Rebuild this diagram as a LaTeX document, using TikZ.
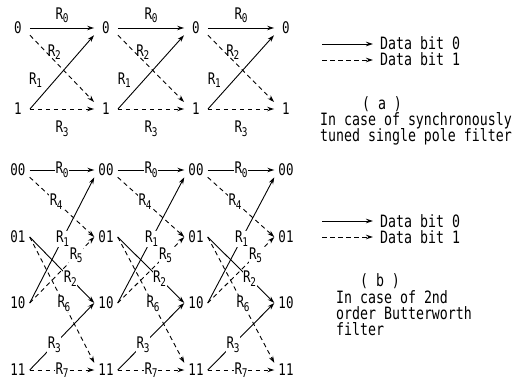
\documentclass[tikz,border=0pt]{standalone}
\usepackage{fontspec}
\newfontfamily\plotfont[FakeStretch=0.78]{DejaVu Sans Mono}
\usetikzlibrary{arrows.meta}
\newcommand{\Rl}[1]{R\kern-0.3pt\raisebox{-3.5pt}{\fontsize{12}{12}\selectfont #1}}
\begin{document}
\begin{tikzpicture}[x=1pt,y=-1pt,
  st/.style={font=\plotfont\fontsize{16}{16}\selectfont, inner ysep=1pt, inner xsep=4pt},
  stA/.style={st, inner xsep=8pt},
  lab/.style={font=\plotfont\fontsize{16}{16}\selectfont, inner sep=0.5pt},
  labw/.style={lab, fill=white},
  sol/.style={line width=0.9pt, -{Stealth[length=7pt,width=4.5pt]}},
  das/.style={sol, dash pattern=on 4.5pt off 3.5pt},
  txt/.style={font=\plotfont\fontsize{17}{17}\selectfont, inner sep=0pt}]
\useasboundingbox (0,0) rectangle (527,382);
% ---------- (a) ----------
\foreach \i/\x in {0/18,1/106,2/196,3/286}{
  \node[stA] (A\i0) at (\x,28) {0};
  \node[stA] (A\i1) at (\x,109) {1};
}
\foreach \i/\j in {0/1,1/2,2/3}{
  \draw[sol] (A\i0.east) -- node[lab, above=4pt]{\Rl{0}} (A\j0.west);
  \draw[das] (A\i0.south east) -- node[lab, pos=0.25, anchor=west, xshift=1pt]{\Rl{2}} (A\j1.north west);
  \draw[sol] (A\i1.east) -- node[lab, pos=0.39, anchor=east, xshift=-12pt]{\Rl{1}} (A\j0.south west);
  \draw[das] (A\i1.east) -- node[lab, below=11pt]{\Rl{3}} (A\j1.west);
}
% legend (a)
\coordinate (la1) at (322,44); \coordinate (la2) at (373,44);
\coordinate (la3) at (322,60); \coordinate (la4) at (373,60);
\draw[sol] (la1) -- (la2);
\draw[das] (la3) -- (la4);
\node[txt, anchor=base west] (ta1) at (380,50) {Data bit 0};
\node[txt, anchor=base west] (ta2) at (380,66) {Data bit 1};
\node[txt, anchor=base] (ta3) at (382,110) {( a )};
\node[txt, anchor=base west] (ta4) at (320,126) {In case of synchronously};
\node[txt, anchor=base west] (ta5) at (320,142) {tuned single pole filter};
% ---------- (b) ----------
\foreach \i/\x in {0/18,1/106,2/196,3/286}{
  \node[st] (B\i00) at (\x,170) {00};
  \node[st] (B\i01) at (\x,237) {01};
  \node[st] (B\i10) at (\x,303) {10};
  \node[st] (B\i11) at (\x,370) {11};
}
\foreach \i/\j in {0/1,1/2,2/3}{
  \draw[sol] (B\i00.east) -- node[labw]{\Rl{0}} (B\j00.west);
  \draw[das] (B\i00.south east) -- node[labw,pos=0.41]{\Rl{4}} (B\j01.west);
  \draw[sol] (B\i10.east) -- node[labw,pos=0.51]{\Rl{1}} (B\j00.south west);
  \draw[das] (B\i10.east) -- node[labw,pos=0.72]{\Rl{5}} (B\j01.west);
  \draw[sol] (B\i01.east) -- node[labw,pos=0.63]{\Rl{2}} (B\j10.west);
  \draw[das] (B\i01.east) -- node[labw,pos=0.53]{\Rl{6}} (B\j11.north west);
  \draw[sol] (B\i11.east) -- node[labw,pos=0.38]{\Rl{3}} (B\j10.west);
  \draw[das] (B\i11.east) -- node[labw]{\Rl{7}} (B\j11.west);
}
% legend (b)
\coordinate (lb1) at (322,221); \coordinate (lb2) at (373,221);
\coordinate (lb3) at (322,237); \coordinate (lb4) at (373,237);
\draw[sol] (lb1) -- (lb2);
\draw[das] (lb3) -- (lb4);
\node[txt, anchor=base west] (tb1) at (380,227) {Data bit 0};
\node[txt, anchor=base west] (tb2) at (380,243) {Data bit 1};
\node[txt, anchor=base] (tb3) at (380,286) {( b )};
\node[txt, anchor=base west] (tb4) at (336,303) {In case of 2nd};
\node[txt, anchor=base west] (tb5) at (336,319) {order Butterworth};
\node[txt, anchor=base west] (tb6) at (336,335) {filter};
\end{tikzpicture}
\end{document}
